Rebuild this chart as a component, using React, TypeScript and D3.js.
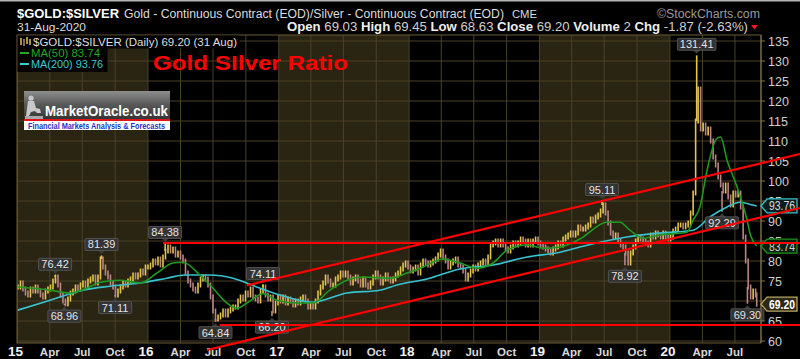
import React from "react";
import * as d3 from "d3";

// ---------- data ----------
// weekly (Friday) closes of the gold / silver ratio
const closes2015 = [73.5, 74.5, 73, 72, 71.5, 73, 72.5, 73.5, 72.5, 71.5, 71, 72.5, 73, 73.5, 75, 76, 74, 71.5, 70, 69.3, 70.5, 72, 72.5, 73.5, 73, 74, 74.5, 73.5, 75, 75.5, 76, 74.5, 76, 80.5, 78.5, 77, 76, 74.5, 73.5, 71.5, 72.5, 73.5, 74.5, 74, 75, 75.5, 76.5, 76, 76.5, 77.5, 77, 78.5];
const closes2016 = [78.5, 79, 80, 79.5, 80.5, 79, 81, 82.5, 83.5, 82.5, 83, 81.5, 82, 81, 80, 77, 75, 74, 73, 72.5, 74, 75.5, 76, 75.5, 74, 71, 67.5, 65.5, 66, 66.5, 67.5, 66.5, 67.5, 68, 68.5, 68.5, 70, 71, 70.5, 72, 71.5, 73, 71, 70.5, 70, 72.5, 73.5, 71.5, 70.5, 71, 67.5, 69.5, 71];
const closes2017 = [70, 71, 69.5, 70.5, 70, 69, 70, 69.5, 70.5, 71, 70, 68.5, 69, 68.5, 70, 72, 73.5, 74.5, 76, 75, 74, 74, 75.5, 76, 77, 76.5, 77, 76, 74.5, 75.5, 76, 75, 74, 75.5, 74, 73.5, 74.5, 76, 77, 76, 74.5, 75.5, 76.5, 75.5, 75, 75.5, 76.5, 77, 78, 79, 79.5, 78.5];
const closes2018 = [77.5, 78, 78.5, 77, 79, 80, 79.5, 79, 79.5, 80, 80.5, 81.5, 82.5, 81, 80, 78.5, 79.5, 80, 80.5, 79, 78.5, 77.5, 75.5, 76.5, 77.5, 78.5, 78, 79, 79.5, 80, 79.5, 81, 84, 84.5, 85, 84, 85, 84, 83, 82.5, 83.5, 84.5, 84, 84.5, 85.5, 85, 84, 85, 84, 85, 85.5, 84.5];
const closes2019 = [84, 83.5, 83, 82.5, 82, 83, 83.5, 84.5, 84, 85.5, 86, 86.5, 87, 86.5, 87, 88.5, 88, 88, 88.5, 89, 90.5, 90, 91, 91.5, 92.5, 94, 92, 89.5, 87, 86, 86.5, 85, 84, 83.5, 82, 79.5, 82, 83.5, 85, 86, 85.5, 85, 84.5, 84, 86.5, 86, 87, 86.5, 86, 87, 86, 85.5];
const closes2020 = [86, 87.5, 88, 89, 89, 88.5, 89, 89.5, 92, 97, 115, 123, 113, 114, 112, 113, 110, 106, 104, 101, 99, 97.5, 99, 96, 94, 97, 96.5, 97, 93.5, 86, 80, 73.5, 71, 72.5, 71.5];
const lastDate = "2020-08-31";
const lastClose = 69.2;

// moving averages [date, value]
const ma50Points: [string, number][] = [
  ["2015-01-01", 73.5], ["2015-02-13", 73.2], ["2015-04-02", 72.7], ["2015-05-28", 72.0], ["2015-07-14", 73.2],
  ["2015-08-20", 74.7], ["2015-10-15", 75.2], ["2015-12-10", 74.5], ["2016-01-26", 77.0], ["2016-03-11", 79.5],
  ["2016-04-08", 79.7], ["2016-05-25", 76.5], ["2016-07-01", 73.2], ["2016-08-09", 69.5], ["2016-09-06", 68.2],
  ["2016-10-04", 69.5], ["2016-11-18", 71.8], ["2016-12-27", 70.2], ["2017-02-21", 69.5], ["2017-04-07", 69.5],
  ["2017-05-24", 72.7], ["2017-07-11", 75.2], ["2017-08-25", 76.0], ["2017-11-08", 75.7], ["2017-12-26", 77.0],
  ["2018-02-09", 78.5], ["2018-04-06", 80.5], ["2018-05-23", 79.5], ["2018-07-10", 78.2], ["2018-08-24", 79.5],
  ["2018-10-02", 82.7], ["2018-11-27", 84.0], ["2019-01-11", 83.2], ["2019-02-27", 83.5], ["2019-04-24", 85.5],
  ["2019-07-09", 89.7], ["2019-08-14", 89.7], ["2019-09-11", 87.7], ["2019-10-17", 85.7], ["2019-12-04", 86.5],
  ["2020-02-18", 87.2], ["2020-03-06", 90.2], ["2020-03-25", 93.5], ["2020-04-14", 102.7], ["2020-05-10", 110.5],
  ["2020-05-22", 111.0], ["2020-06-09", 105.2], ["2020-07-07", 98.5], ["2020-08-04", 90.2], ["2020-08-12", 87.0],
  ["2020-08-31", 83.74],
];
const ma200Points: [string, number][] = [
  ["2015-01-01", 67.7], ["2015-04-02", 70.2], ["2015-07-03", 72.7], ["2015-09-17", 73.7], ["2015-12-10", 74.5],
  ["2016-02-23", 75.7], ["2016-04-13", 76.5], ["2016-06-22", 76.5], ["2016-08-26", 75.7], ["2016-11-10", 73.2],
  ["2017-01-05", 71.5], ["2017-04-05", 69.7], ["2017-07-11", 72.0], ["2017-10-11", 72.7], ["2017-11-28", 74.0],
  ["2018-02-20", 75.5], ["2018-05-23", 78.0], ["2018-08-24", 79.0], ["2018-11-27", 81.0], ["2019-02-27", 82.2],
  ["2019-04-24", 83.5], ["2019-09-02", 86.0], ["2019-12-04", 87.0], ["2020-03-06", 87.7], ["2020-04-22", 91.0],
  ["2020-06-09", 93.5], ["2020-07-15", 94.7], ["2020-08-20", 94.0], ["2020-08-31", 93.76],
];

// annotated highs / lows
const extremeDates = ["2015-04-16", "2015-05-12", "2015-08-24", "2015-10-01", "2016-02-18", "2016-07-08", "2016-11-18", "2016-12-13", "2019-06-25", "2019-08-28", "2020-03-16", "2020-05-26", "2020-08-05"];
const extremeValues = [76.42, 68.96, 81.39, 71.11, 84.38, 64.84, 74.11, 66.2, 95.11, 78.92, 131.41, 92.29, 69.3];
const extremeIsHigh = [true, false, true, false, true, false, true, false, true, false, true, false, false];

// hand-drawn red lines [date, value] -> [date, value]
const trendLines: [[string, number], [string, number]][] = [
  [["2016-02-12", 84.5], ["2020-12-30", 84.5]],
  [["2016-07-20", 64.0], ["2020-12-30", 64.0]],
  [["2016-10-04", 73.9], ["2020-12-30", 106.75]],
  [["2016-06-14", 57.75], ["2020-12-30", 93.25]],
];

const yTickValues = [60, 65, 70, 75, 80, 85, 90, 95, 100, 105, 110, 115, 120, 125, 130, 135];
const xTickDates = [
  "2015-01-01", "2015-04-01", "2015-07-01", "2015-10-01",
  "2016-01-01", "2016-04-01", "2016-07-01", "2016-10-01",
  "2017-01-01", "2017-04-01", "2017-07-01", "2017-10-01",
  "2018-01-01", "2018-04-01", "2018-07-01", "2018-10-01",
  "2019-01-01", "2019-04-01", "2019-07-01", "2019-10-01",
  "2020-01-01", "2020-04-01", "2020-07-01",
];
const xTickLabels = ["15", "Apr", "Jul", "Oct", "16", "Apr", "Jul", "Oct", "17", "Apr", "Jul", "Oct", "18", "Apr", "Jul", "Oct", "19", "Apr", "Jul", "Oct", "20", "Apr", "Jul"];
const shadedYears = [2015, 2017, 2019];

const lastMA50 = 83.74;
const lastMA200 = 93.76;

const FONT = "'Liberation Sans', Arial, Helvetica, sans-serif";

export default function App() {
  const parse = d3.timeParse("%Y-%m-%d");
  const PL = 17, PR = 761, PT = 35, PB = 343;
  const x = d3.scaleTime().domain([new Date(2015, 0, 1), new Date(2020, 8, 12)]).range([17.6, PR]);
  const y = d3.scaleLinear().domain([59.5, 136.5]).range([PB, PT]);

  const yearCloses: [number, number[]][] = [
    [2015, closes2015], [2016, closes2016], [2017, closes2017],
    [2018, closes2018], [2019, closes2019], [2020, closes2020],
  ];
  const series: { date: Date; close: number }[] = [];
  yearCloses.forEach(([yr, arr]) => {
    const end = yr === 2020 ? new Date(2020, 7, 29) : new Date(yr + 1, 0, 1);
    const fridays = d3.timeFriday.range(new Date(yr, 0, 1), end);
    arr.forEach((c, i) => {
      if (i < fridays.length) series.push({ date: fridays[i], close: c });
    });
  });
  series.push({ date: parse(lastDate)!, close: lastClose });

  const lineGen = d3
    .line<[string, number]>()
    .x((d) => x(parse(d[0])!))
    .y((d) => y(d[1]))
    .curve(d3.curveMonotoneX);

  const bars = series.map((d, i) => {
    const prev = i > 0 ? series[i - 1].close : d.close;
    const hi = Math.max(prev, d.close);
    const lo = Math.min(prev, d.close);
    const up = d.close >= prev;
    const top = y(hi) - 2.5;
    const h = Math.max(5, y(lo) - y(hi) + 5);
    return { x: x(d.date), top, h, up };
  });

  const extremes = extremeDates.map((ds, i) => {
    const dt = parse(ds)!;
    const nearest = series.reduce((best, s) =>
      Math.abs(+s.date - +dt) < Math.abs(+best.date - +dt) ? s : best
    );
    return { date: dt, value: extremeValues[i], high: extremeIsHigh[i], base: nearest.close };
  });

  const tags = [
    { v: lastMA200, text: lastMA200.toFixed(2), stroke: "#35c4cc", fill: "#0b1c1e", color: "#dddddd", bold: false },
    { v: lastMA50, text: lastMA50.toFixed(2), stroke: "#1f8f1f", fill: "#0b200b", color: "#cccccc", bold: false },
    { v: lastClose, text: lastClose.toFixed(2), stroke: "#b9a463", fill: "#2c2816", color: "#ffffff", bold: true },
  ];
  const visibleTicks = yTickValues.filter((t) => tags.every((tg) => Math.abs(y(t) - y(tg.v)) > 4));

  return (
    <div style={{ position: "absolute", left: 0, top: 0, width: 800, height: 359 }}>
      <svg width={800} height={359} style={{ display: "block" }} fontFamily={FONT}>
        <defs>
          <clipPath id="plotClip">
            <rect x={PL} y={PT} width={PR - PL} height={PB - PT} />
          </clipPath>
          <linearGradient id="logoGrad" x1="0" y1="0" x2="0" y2="1">
            <stop offset="0" stopColor="#8e8e8e" />
            <stop offset="0.45" stopColor="#5a5a5a" />
            <stop offset="1" stopColor="#333333" />
          </linearGradient>
        </defs>
        <rect x={0} y={0} width={800} height={359} fill="#000" />
        <rect x={0} y={0} width={800} height={1.5} fill="#b5b5b5" />

        {/* header */}
        <text x={17} y={18} fontSize={13.5} fontWeight="bold" fill="#ffffff" textLength={102} lengthAdjust="spacingAndGlyphs">$GOLD:$SILVER</text>
        <text x={124} y={18} fontSize={12} fill="#dcdcdc" textLength={380} lengthAdjust="spacingAndGlyphs">Gold - Continuous Contract (EOD)/Silver - Continuous Contract (EOD)</text>
        <text x={512} y={18} fontSize={10} fill="#dcdcdc" textLength={25} lengthAdjust="spacingAndGlyphs">CME</text>
        <text x={657} y={17.5} fontSize={12} fill="#9a9a9a" textLength={103} lengthAdjust="spacingAndGlyphs">©StockCharts.com</text>
        <text x={17} y={31} fontSize={11.5} fill="#dcdcdc" textLength={69} lengthAdjust="spacingAndGlyphs">31-Aug-2020</text>
        <text x={287} y={31} fontSize={12} fill="#d0d0d0" textLength={461} lengthAdjust="spacingAndGlyphs">
          <tspan fontWeight="bold" fill="#eeeeee">Open</tspan> 69.03  <tspan fontWeight="bold" fill="#eeeeee">High</tspan> 69.45  <tspan fontWeight="bold" fill="#eeeeee">Low</tspan> 68.63  <tspan fontWeight="bold" fill="#eeeeee">Close</tspan> 69.20  <tspan fontWeight="bold" fill="#eeeeee">Volume</tspan> 2  <tspan fontWeight="bold" fill="#eeeeee">Chg</tspan> -1.87 (-2.63%)
        </text>
        <path d="M751,25 L758,25 L754.5,29.5 Z" fill="#ff1a1a" />

        {/* plot background */}
        <rect x={PL} y={PT} width={PR - PL} height={PB - PT} fill="#000" />
        <g clipPath="url(#plotClip)">
          {shadedYears.map((yr) => (
            <rect
              key={yr}
              x={x(new Date(yr, 0, 1))}
              y={PT}
              width={x(new Date(yr + 1, 0, 1)) - x(new Date(yr, 0, 1))}
              height={PB - PT}
              fill="#2a2513"
            />
          ))}
          {yTickValues.map((t) => (
            <line key={"h" + t} x1={PL} x2={PR} y1={y(t)} y2={y(t)} stroke="#4a4127" strokeWidth={1} />
          ))}
          {xTickDates.map((ds) => (
            <line key={"v" + ds} x1={x(parse(ds)!)} x2={x(parse(ds)!)} y1={PT} y2={PB} stroke="#4a4127" strokeWidth={1} />
          ))}

          {/* price bars */}
          {bars.map((b, i) => (
            <rect key={i} x={b.x - 0.8} y={b.top} width={1.6} height={b.h} fill={b.up ? "#e3c44c" : "#b98484"} />
          ))}
          {extremes.map((e, i) => (
            <line
              key={"w" + i}
              x1={x(e.date)}
              x2={x(e.date)}
              y1={y(e.value)}
              y2={y(e.base)}
              stroke={e.high ? "#e3c44c" : "#b98484"}
              strokeWidth={1.6}
            />
          ))}

          {/* moving averages */}
          <path d={lineGen(ma200Points) || ""} fill="none" stroke="#36c3cf" strokeWidth={1.6} />
          <path d={lineGen(ma50Points) || ""} fill="none" stroke="#1e9a1e" strokeWidth={1.6} />
        </g>
        <rect x={PL} y={PT} width={PR - PL} height={PB - PT} fill="none" stroke="#6a5d38" strokeWidth={1} />

        {/* annotation labels */}
        {extremes.map((e, i) => {
          const cx = x(e.date);
          const py = y(e.value);
          const txt = e.value.toFixed(2);
          const w = txt.length * 5.6 + 5;
          const h = 12;
          const boxTop = e.high ? py - 5 - h : py + 5;
          const tri = e.high
            ? `M${cx - 4},${py - 5.5} L${cx + 4},${py - 5.5} L${cx},${py - 1.5} Z`
            : `M${cx - 4},${py + 5.5} L${cx + 4},${py + 5.5} L${cx},${py + 1.5} Z`;
          return (
            <g key={"a" + i}>
              <path d={tri} fill="#3b3b3b" />
              <rect x={cx - w / 2} y={boxTop} width={w} height={h} fill="#333333" stroke="#5c5c5c" strokeWidth={0.8} rx={1} />
              <text x={cx} y={boxTop + h / 2 + 4} textAnchor="middle" fontSize={11} fill="#e2e2e2">{txt}</text>
            </g>
          );
        })}

        {/* right axis */}
        <line x1={PR} x2={PR} y1={PT} y2={PB} stroke="#85744a" strokeWidth={1} />
        {yTickValues.map((t) => (
          <line key={"ytm" + t} x1={PR} x2={PR + 4} y1={y(t)} y2={y(t)} stroke="#85744a" />
        ))}
        {visibleTicks.map((t) => (
          <text key={"yt" + t} x={768} y={y(t) + 4.5} fontSize={12.5} fill="#cfcfcf">{t}</text>
        ))}
        {tags.map((t, i) => {
          const cy = y(t.v);
          return (
            <g key={"tag" + i}>
              <path
                d={`M${PR},${cy} L${PR + 6},${cy - 7} L797,${cy - 7} L797,${cy + 7} L${PR + 6},${cy + 7} Z`}
                fill={t.fill}
                stroke={t.stroke}
                strokeWidth={1.3}
              />
              <text x={769} y={cy + 4.5} fontSize={12.5} fontWeight={t.bold ? "bold" : "normal"} fill={t.color} textLength={26} lengthAdjust="spacingAndGlyphs">{t.text}</text>
            </g>
          );
        })}

        {/* bottom axis labels */}
        {xTickDates.map((ds, i) => {
          const isYear = /^\d+$/.test(xTickLabels[i]);
          return (
            <text
              key={"xt" + ds}
              x={x(parse(ds)!) - (isYear ? 2 : 0)}
              y={356}
              textAnchor="middle"
              fontSize={isYear ? 13.5 : 11.5}
              fontWeight="bold"
              fill={isYear ? "#f2f2f2" : "#d8d8d8"}
            >
              {xTickLabels[i]}
            </text>
          );
        })}

        {/* legend */}
        <rect x={PL + 0.5} y={PT + 0.5} width={222} height={13} fill="#000" />
        <rect x={PL + 0.5} y={PT + 13} width={90} height={24} fill="#000" />
        <line x1={21} x2={21} y1={38} y2={45} stroke="#e3c44c" strokeWidth={1.5} />
        <line x1={24} x2={24} y1={39} y2={46} stroke="#b98484" strokeWidth={1.5} />
        <line x1={27} x2={27} y1={37} y2={44} stroke="#e3c44c" strokeWidth={1.5} />
        <line x1={30} x2={30} y1={39} y2={45} stroke="#e3c44c" strokeWidth={1.5} />
        <text x={33} y={45.5} fontSize={11.5} fill="#dedede" textLength={204} lengthAdjust="spacingAndGlyphs">$GOLD:$SILVER (Daily) 69.20 (31 Aug)</text>
        <line x1={20} x2={29} y1={53} y2={53} stroke="#22a822" strokeWidth={2} />
        <text x={31} y={57} fontSize={11.5} fill="#22a822" textLength={69} lengthAdjust="spacingAndGlyphs">MA(50) 83.74</text>
        <line x1={20} x2={29} y1={64} y2={64} stroke="#3cc8d2" strokeWidth={2} />
        <text x={31} y={68} fontSize={11.5} fill="#3cc8d2" textLength={72} lengthAdjust="spacingAndGlyphs">MA(200) 93.76</text>

        {/* title */}
        <text x={153} y={69.5} fontSize={21} fontWeight="bold" fill="#ff0000" textLength={195} lengthAdjust="spacingAndGlyphs">Gold SIlver Ratio</text>

        {/* MarketOracle logo */}
        <g>
          <rect x={24} y={91} width={146} height={29} fill="url(#logoGrad)" />
          <g fill="#c8c8c8">
            <circle cx={31} cy={98} r={2.6} />
            <path d="M28,101 Q31,100 34,101 L36,108 L40,109 L41,113 L37,113 L35,111 L31,112 L29,116 L26,116 L27,108 Z" />
            <rect x={25} y={116} width={18} height={3} fill="#a8a8a8" />
          </g>
          <text x={45} y={115.5} fontSize={15} fontWeight="bold" fill="#ffffff" textLength={123} lengthAdjust="spacingAndGlyphs">MarketOracle.co.uk</text>
          <rect x={24} y={119} width={146} height={2} fill="#e0151b" />
          <rect x={24} y={121} width={146} height={9} fill="#ffffff" />
          <text x={28} y={128.8} fontSize={8.5} fontWeight="bold" fill="#1a33cc" textLength={137} lengthAdjust="spacingAndGlyphs">Financial Markets Analysis &amp; Forecasts</text>
        </g>

        {/* red hand-drawn lines */}
        {trendLines.map((ln, i) => (
          <line
            key={"tl" + i}
            x1={x(parse(ln[0][0])!)}
            y1={y(ln[0][1])}
            x2={x(parse(ln[1][0])!)}
            y2={y(ln[1][1])}
            stroke="#ff0000"
            strokeWidth={2.2}
          />
        ))}
      </svg>
    </div>
  );
}
